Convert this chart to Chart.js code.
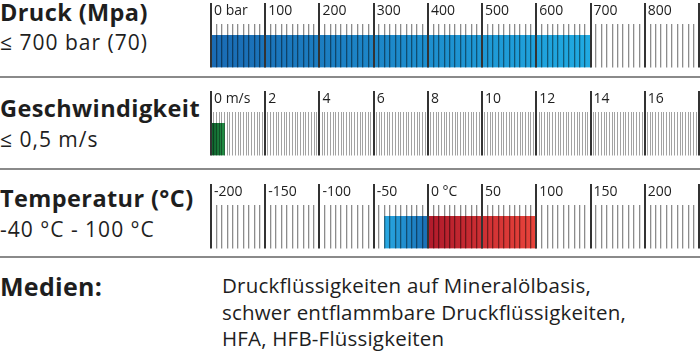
<!DOCTYPE html>
<html>
<head>
  <title>Einsatzbereich</title>
  <script src="https://cdn.jsdelivr.net/npm/chart.js"></script>
  <style>
    body {
      margin: 0;
      width: 700px;
      height: 354px;
      position: relative;
      overflow: hidden;
      background: #fff;
      font-family: "Open Sans", sans-serif;
      color: #1e1e1e;
    }

    .txt {
      position: absolute;
      left: 0;
      white-space: nowrap;
      line-height: 1;
    }

    .title {
      font-weight: 700;
      font-size: 23.5px;
      letter-spacing: 0.4px;
    }

    .sub {
      font-size: 21px;
      letter-spacing: 1px;
    }

    .rule {
      position: absolute;
      left: 0;
      width: 700px;
      height: 2px;
      background: #8a8a8a;
    }

    canvas {
      position: absolute;
      left: 0;
    }

    .medien {
      position: absolute;
      left: 222px;
      top: 272px;
      font-size: 20.5px;
      line-height: 26.5px;
      letter-spacing: 0.2px;
      white-space: nowrap;
    }
  </style>
</head>
<body>
  <div class="txt title" style="top:1px">Druck (Mpa)</div>
  <div class="txt sub" style="top:32px">≤ 700 bar (70)</div>
  <div class="rule" style="top:76px"></div>
  <div class="txt title" style="top:97px">Geschwindigkeit</div>
  <div class="txt sub" style="top:129px">≤ 0,5 m/s</div>
  <div class="rule" style="top:168px"></div>
  <div class="txt title" style="top:187px">Temperatur (°C)</div>
  <div class="txt sub" style="top:219px">-40 °C - 100 °C</div>
  <div class="rule" style="top:256px"></div>
  <div class="txt title" style="top:274px;font-size:25px;letter-spacing:0.3px">Medien:</div>
  <div class="medien">Druckflüssigkeiten auf Mineralölbasis,<br>schwer entflammbare Druckflüssigkeiten,<br>HFA, HFB-Flüssigkeiten</div>

  <canvas id="druckChart" width="700" height="70" style="top:0px"></canvas>
  <canvas id="speedChart" width="700" height="70" style="top:88px"></canvas>
  <canvas id="tempChart" width="700" height="70" style="top:181px"></canvas>

  <script>
    // scale ranges and tick labels
    const druckScale = [0, 900];
    const druckTicks = ["0 bar", "100", "200", "300", "400", "500", "600", "700", "800", ""];
    const speedScale = [0, 18];
    const speedTicks = ["0 m/s", "2", "4", "6", "8", "10", "12", "14", "16", ""];
    const tempScale = [-200, 250];
    const tempTicks = ["-200", "-150", "-100", "-50", "0 °C", "50", "100", "150", "200", ""];

    // operating ranges
    const druckRange = [0, 700];
    const speedRange = [0, 0.5];
    const tempCold = [-40, 0];
    const tempHot = [0, 100];

    // horizontal gradient over the extent of a bar
    function barGradient(range, from, to) {
      return function (ctx) {
        const chart = ctx.chart;
        if (!chart.chartArea) return from;
        const x = chart.scales.x;
        const g = chart.ctx.createLinearGradient(x.getPixelForValue(range[0]), 0, x.getPixelForValue(range[1]), 0);
        g.addColorStop(0, from);
        g.addColorStop(1, to);
        return g;
      };
    }

    function bar(range, from, to) {
      return {
        data: [range],
        backgroundColor: barGradient(range, from, to),
        borderWidth: 0,
        barPercentage: 1,
        categoryPercentage: 1,
        grouped: false
      };
    }

    function rowChart(id, scale, majorStep, minorStep, tickLabels, minorColor, minorWidth, datasets) {
      const isMajor = v => {
        const r = (v - scale[0]) / majorStep;
        return Math.abs(r - Math.round(r)) < 1e-6;
      };
      return new Chart(document.getElementById(id), {
        type: "bar",
        data: { labels: [""], datasets: datasets },
        options: {
          indexAxis: "y",
          responsive: false,
          animation: false,
          events: [],
          layout: { padding: { left: 211, right: 1, top: 3, bottom: 2.5 } },
          plugins: { legend: { display: false }, tooltip: { enabled: false } },
          scales: {
            y: { display: false },
            x: {
              type: "linear",
              position: "top",
              min: scale[0],
              max: scale[1],
              weight: 10,
              ticks: {
                stepSize: majorStep,
                autoSkip: false,
                maxRotation: 0,
                align: "start",
                labelOffset: 3,
                padding: -16,
                color: "#1e1e1e",
                font: { family: "Open Sans", size: 14 },
                callback: (v, i) => tickLabels[i] ?? ""
              },
              grid: { color: "#333", lineWidth: 2, tickLength: 32, z: 2 },
              border: { display: false },
              afterFit: s => { s.height = 32; }
            },
            minor: {
              type: "linear",
              axis: "x",
              position: "top",
              min: scale[0],
              max: scale[1],
              weight: 0,
              ticks: { display: false, stepSize: minorStep, autoSkip: false },
              grid: {
                color: ctx => isMajor(ctx.tick.value) ? "rgba(0,0,0,0)" : minorColor,
                lineWidth: minorWidth,
                tickLength: 11,
                z: 1
              },
              border: { display: false },
              afterFit: s => { s.height = 0; }
            }
          }
        }
      });
    }

    rowChart("druckChart", druckScale, 100, 10, druckTicks, "rgba(0,0,0,0.45)", 1.3, [
      bar(druckRange, "#1a6bb4", "#20aae2")
    ]);

    rowChart("speedChart", speedScale, 2, 0.1, speedTicks, "rgba(0,0,0,0.36)", 1, [
      bar(speedRange, "#0e5e2c", "#229045")
    ]);

    rowChart("tempChart", tempScale, 50, 5, tempTicks, "rgba(0,0,0,0.45)", 1.3, [
      bar(tempCold, "#28a9e3", "#1a6eb5"),
      bar(tempHot, "#b11a2b", "#e9443b")
    ]);
  </script>
</body>
</html>
